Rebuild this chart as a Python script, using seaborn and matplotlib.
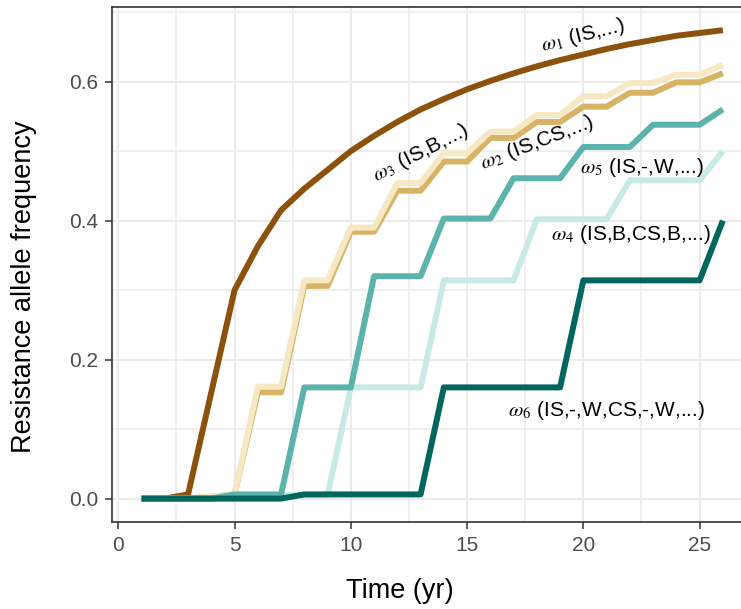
import numpy as np
import pandas as pd
import matplotlib
matplotlib.use("Agg")
import matplotlib.pyplot as plt
import seaborn as sns
from matplotlib.ticker import FixedLocator, FormatStrFormatter

# ---- data ----
years = list(range(1, 27))
w1 = [0, 0, 0.006, 0.153, 0.300, 0.363, 0.415, 0.446, 0.473, 0.500, 0.522, 0.542, 0.560,
      0.575, 0.589, 0.601, 0.612, 0.622, 0.631, 0.639, 0.647, 0.654, 0.660, 0.666, 0.670, 0.674]
w2 = [0, 0, 0, 0.003, 0.006, 0.153, 0.153, 0.306, 0.306, 0.384, 0.384, 0.443, 0.443,
      0.485, 0.485, 0.519, 0.519, 0.542, 0.542, 0.564, 0.564, 0.584, 0.584, 0.599, 0.599, 0.612]
w3 = [0, 0, 0, 0.003, 0.006, 0.161, 0.161, 0.314, 0.314, 0.390, 0.390, 0.454, 0.454,
      0.497, 0.497, 0.528, 0.528, 0.552, 0.552, 0.579, 0.579, 0.598, 0.598, 0.610, 0.610, 0.624]
w4 = [0, 0, 0, 0, 0, 0.005, 0.005, 0.005, 0.005, 0.160, 0.160, 0.160, 0.160,
      0.314, 0.314, 0.314, 0.314, 0.402, 0.402, 0.402, 0.402, 0.458, 0.458, 0.458, 0.458, 0.500]
w5 = [0, 0, 0, 0, 0.006, 0.006, 0.006, 0.160, 0.160, 0.160, 0.320, 0.320, 0.320,
      0.403, 0.403, 0.403, 0.461, 0.461, 0.461, 0.506, 0.506, 0.506, 0.538, 0.538, 0.538, 0.560]
w6 = [0, 0, 0, 0, 0, 0, 0, 0.006, 0.006, 0.006, 0.006, 0.006, 0.006,
      0.160, 0.160, 0.160, 0.160, 0.160, 0.160, 0.314, 0.314, 0.314, 0.314, 0.314, 0.314, 0.400]

strategies = ["w1", "w2", "w3", "w4", "w5", "w6"]
series = [w1, w2, w3, w4, w5, w6]
colors = ["#8C510A", "#D8B365", "#F6E8C3", "#C7EAE5", "#5AB4AC", "#01665E"]

label_texts = [r"$\omega_1$ (IS,...)", r"$\omega_2$ (IS,CS,...)", r"$\omega_3$ (IS,B,...)",
               r"$\omega_4$ (IS,B,CS,B,...)", r"$\omega_5$ (IS,-,W,...)",
               r"$\omega_6$ (IS,-,W,CS,-,W,...)"]
label_x = [19.99, 18.03, 13.0, 22.05, 22.52, 21.02]
label_y = [0.667, 0.512, 0.4975, 0.3796, 0.477, 0.1265]
label_rot = [14, 21, 27, 0, 0, 0]

x_ticks = [0, 5, 10, 15, 20, 25]
y_ticks = [0.0, 0.2, 0.4, 0.6]

df = pd.DataFrame({
    "time": np.tile(years, len(strategies)),
    "freq": np.concatenate(series),
    "strategy": np.repeat(strategies, len(years)),
})

sns.set_theme(style="whitegrid")
plt.rcParams["font.family"] = ["Liberation Sans", "DejaVu Sans"]
plt.rcParams["mathtext.fontset"] = "stix"

W, H = 741, 609
fig = plt.figure(figsize=(W / 100, H / 100), dpi=100)
left_px, right_px, top_px, bot_px = 112.5, 751.9, 6.8, 522.0
ax = fig.add_axes([left_px / W, 1 - bot_px / H, (right_px - left_px) / W, (bot_px - top_px) / H])
ax.set_facecolor("white")

sns.lineplot(data=df, x="time", y="freq", hue="strategy", hue_order=strategies,
             palette=colors, linewidth=4.3, legend=False, ax=ax, estimator=None)
for ln in ax.get_lines():
    ln.set_solid_capstyle("butt")
    ln.set_solid_joinstyle("round")

ax.set_xlim(-0.25, 27.25)
ax.set_ylim(-0.0337, 0.7077)

ax.xaxis.set_major_locator(FixedLocator(x_ticks))
ax.yaxis.set_major_locator(FixedLocator(y_ticks))
ax.xaxis.set_minor_locator(FixedLocator([2.5, 7.5, 12.5, 17.5, 22.5]))
ax.yaxis.set_minor_locator(FixedLocator([0.1, 0.3, 0.5, 0.7]))
ax.yaxis.set_major_formatter(FormatStrFormatter("%.1f"))

ax.grid(which="major", color="#EBEBEB", linewidth=1.5)
ax.grid(which="minor", color="#EBEBEB", linewidth=1.1)
ax.set_axisbelow(True)

for s in ax.spines.values():
    s.set_visible(True)
    s.set_color("#333333")
    s.set_linewidth(1.2)

ax.tick_params(which="major", bottom=True, left=True, direction="out", length=5,
               width=1.1, color="#333333", labelsize=15, labelcolor="#4D4D4D", pad=5)
ax.tick_params(which="minor", length=0)

ax.set_xlabel("Time (yr)", fontsize=19.5, color="black")
ax.set_ylabel("Resistance allele frequency", fontsize=19.5, color="black")
ax.xaxis.set_label_coords((400 - left_px) / (right_px - left_px), -(578 - bot_px) / (bot_px - top_px))
ax.yaxis.set_label_coords(-(left_px - 37) / (right_px - left_px), (bot_px - 287) / (bot_px - top_px))

for t, x, y, r in zip(label_texts, label_x, label_y, label_rot):
    ax.text(x, y, t, fontsize=15, color="black", rotation=r, rotation_mode="anchor",
            ha="center", va="center")

fig.savefig("out.png", dpi=100)
